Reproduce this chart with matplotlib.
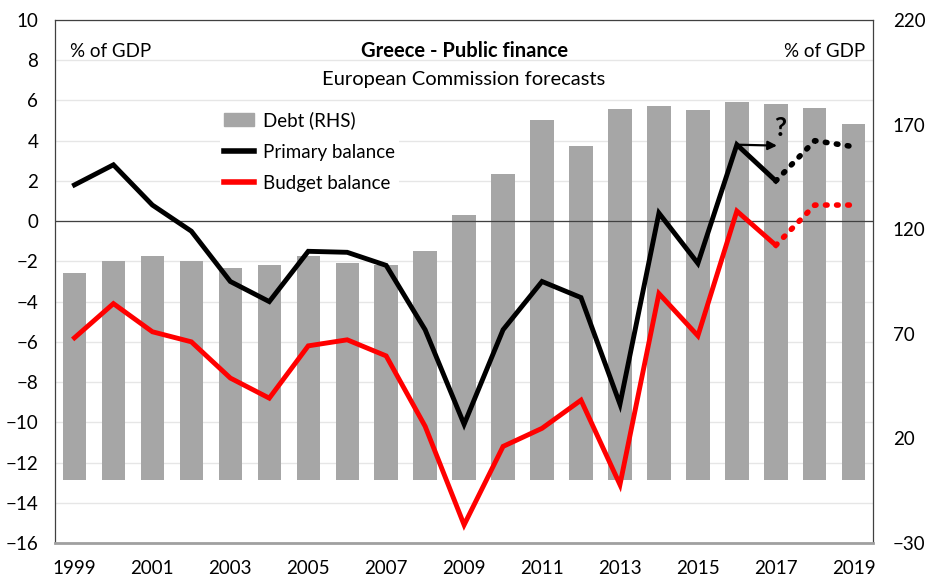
import matplotlib
matplotlib.use("Agg")
import matplotlib.pyplot as plt
from matplotlib.lines import Line2D
from matplotlib.patches import Patch

plt.rcParams['font.family'] = ['Lato', 'DejaVu Sans']

years = list(range(1999, 2020))
debt = [99.0, 104.9, 107.1, 104.9, 101.5, 102.9, 107.4, 103.6, 103.1, 109.4,
        126.7, 146.2, 172.1, 159.6, 177.4, 179.0, 176.8, 180.8, 179.6, 177.8, 170.1]
primary = [1.8, 2.8, 0.8, -0.5, -3.0, -4.0, -1.5, -1.55, -2.2, -5.4,
           -10.1, -5.4, -3.0, -3.8, -9.1, 0.4, -2.1, 3.8, 2.0]
primary_fc_years = [2017, 2018, 2019]
primary_fc = [2.0, 4.0, 3.7]
budget = [-5.8, -4.1, -5.5, -6.0, -7.8, -8.8, -6.2, -5.9, -6.7, -10.2,
          -15.1, -11.2, -10.3, -8.9, -13.1, -3.6, -5.7, 0.5, -1.2]
budget_fc_years = [2017, 2018, 2019]
budget_fc = [-1.2, 0.8, 0.8]
xtick_years = list(range(1999, 2020, 2))

fig = plt.figure(figsize=(9.27, 5.79), dpi=100)
ax = fig.add_axes([0.0593, 0.0622, 0.8827, 0.9033])
ax2 = ax.twinx()

# Bars on right axis
ax2.bar(years, debt, width=0.6, color='#a6a6a6', zorder=1)
ax2.set_ylim(-30, 220)
ax2.set_yticks([-30, 20, 70, 120, 170, 220])
ax2.tick_params(axis='y', length=0, labelsize=13.5, pad=14)

ax.set_zorder(ax2.get_zorder() + 1)
ax.patch.set_visible(False)

ax.set_xlim(1998.5, 2019.5)
ax.set_ylim(-16, 10)
ax.set_yticks(range(-16, 11, 2))
ax.set_xticks(xtick_years)
ax.tick_params(axis='both', length=0, labelsize=13.5)
ax.tick_params(axis='y', pad=12)
ax.tick_params(axis='x', pad=12)
for y in range(-16, 11, 2):
    ax2.axhline((y + 16) / 26 * 250 - 30, color='#e6e6e6', lw=1, zorder=0)
ax.axhline(0, color='#404040', lw=0.9, zorder=2)

ax.plot(years[:len(primary)], primary, color='black', lw=3.5, zorder=3, solid_joinstyle='miter')
ax.plot(years[:len(budget)], budget, color='red', lw=3.5, zorder=3, solid_joinstyle='miter')
ax.plot(primary_fc_years, primary_fc, color='black', lw=4, ls=(0, (0.3, 1.7)),
        dash_capstyle='round', zorder=3)
ax.plot(budget_fc_years, budget_fc, color='red', lw=4, ls=(0, (0.3, 1.7)),
        dash_capstyle='round', zorder=3)

ax.annotate('', xy=(2017.1, 3.75), xytext=(2016, 3.8),
            arrowprops=dict(arrowstyle='-|>', color='black', lw=1.6, mutation_scale=13))
ax.text(2017.1, 4.65, '?', fontsize=19, fontweight='bold', ha='center', va='center')

for s in ['top', 'left', 'right']:
    ax.spines[s].set_color('#404040')
    ax.spines[s].set_linewidth(0.9)
for s in ax2.spines.values():
    s.set_visible(False)
ax.spines['bottom'].set_color('#a0a0a0')
ax.spines['bottom'].set_linewidth(2)

ax.text(0.018, 0.94, '% of GDP', transform=ax.transAxes, fontsize=13.5, va='center', ha='left')
ax.text(0.99, 0.94, '% of GDP', transform=ax.transAxes, fontsize=13.5, va='center', ha='right')
ax.text(0.5, 0.94, 'Greece - Public finance', transform=ax.transAxes, fontsize=14.5,
        fontweight='bold', va='center', ha='center')
ax.text(0.5, 0.887, 'European Commission forecasts', transform=ax.transAxes, fontsize=14.5,
        va='center', ha='center')

handles = [Patch(color='#a6a6a6'), Line2D([], [], color='black', lw=4),
           Line2D([], [], color='red', lw=4)]
labels = ['Debt (RHS)', 'Primary balance', 'Budget balance']
leg = ax.legend(handles, labels, loc='upper left', bbox_to_anchor=(0.19, 0.85),
                frameon=True, facecolor='white', edgecolor='none', framealpha=1,
                fontsize=13.5, handlelength=1.6, handletextpad=0.5, labelspacing=0.75,
                borderpad=0.2)

fig.savefig('out.png', dpi=100)
